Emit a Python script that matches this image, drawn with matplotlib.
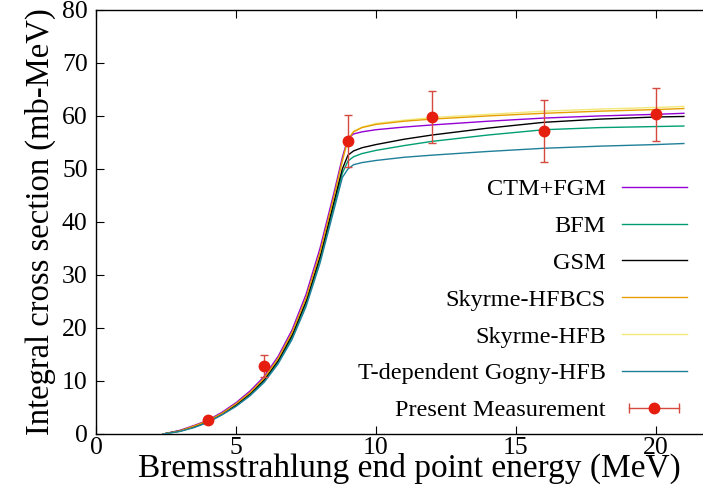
import matplotlib
matplotlib.use("Agg")
import matplotlib.pyplot as plt
from matplotlib.lines import Line2D
from matplotlib.legend_handler import HandlerLine2D, HandlerTuple

plt.rcParams['font.family'] = ['Liberation Serif', 'DejaVu Serif']

# energy grid (MeV) for the model curves
energy = [2.4, 3, 3.5, 4, 4.5, 5, 5.5, 6, 6.5, 7, 7.5, 8, 8.5, 8.8, 9.0,
          9.2, 9.5, 10, 11, 12, 14, 16, 18, 20, 21]

ctm_fgm = [0, 0.7, 1.6, 2.6, 4.1, 5.9, 8.1, 10.8, 14.6, 19.6, 26.3, 35.0, 45.5,
           52.2, 55.8, 56.6, 57.0, 57.4, 57.9, 58.3, 59.0, 59.6, 60.0, 60.3, 60.5]
bfm = [0, 0.5, 1.3, 2.3, 3.7, 5.4, 7.4, 10.0, 13.5, 18.2, 24.5, 32.8, 43.0,
       49.2, 51.5, 52.3, 52.9, 53.5, 54.4, 55.2, 56.4, 57.4, 57.8, 58.0, 58.1]
gsm = [0, 0.6, 1.4, 2.4, 3.8, 5.5, 7.6, 10.2, 13.8, 18.6, 25.0, 33.4, 43.8,
       50.0, 52.6, 53.4, 54.0, 54.6, 55.6, 56.4, 57.7, 58.8, 59.4, 59.8, 59.9]
hfbcs = [0, 0.6, 1.5, 2.5, 3.9, 5.7, 7.8, 10.5, 14.2, 19.1, 25.6, 34.2, 44.8,
         51.6, 55.6, 57.0, 57.8, 58.4, 59.0, 59.4, 60.0, 60.5, 60.9, 61.2, 61.4]
hfb = [0, 0.6, 1.5, 2.5, 3.9, 5.7, 7.8, 10.5, 14.1, 19.0, 25.5, 34.0, 44.6,
       51.4, 55.5, 57.1, 57.9, 58.6, 59.2, 59.7, 60.3, 60.9, 61.3, 61.6, 61.8]
gogny = [0, 0.5, 1.2, 2.2, 3.6, 5.2, 7.2, 9.7, 13.2, 17.8, 24.0, 32.2, 42.3,
         48.4, 50.0, 50.8, 51.2, 51.6, 52.2, 52.6, 53.3, 53.9, 54.3, 54.6, 54.8]

# measured points
meas_e = [4, 6, 9, 12, 16, 20]
meas_sig = [2.6, 12.8, 55.3, 59.8, 57.2, 60.3]
meas_err = [0.5, 2.1, 4.9, 4.9, 5.9, 5.0]

# name, values, colour, zorder (pale HFB line sits under HFBCS)
models = [
    ('CTM+FGM', ctm_fgm, '#9400d3', 3),
    ('BFM', bfm, '#009e73', 3),
    ('GSM', gsm, '#000000', 3),
    ('Skyrme-HFBCS', hfbcs, '#e69f00', 3),
    ('Skyrme-HFB', hfb, '#f3e87a', 2),
    ('T-dependent Gogny-HFB', gogny, '#1f7f99', 3),
]

fig = plt.figure(figsize=(7.03, 4.96), dpi=100)
ax = fig.add_axes([0.1366, 0.125, 0.876, 0.855])

handles = []
labels = []
for name, vals, col, z in models:
    ln, = ax.plot(energy, vals, color=col, lw=1.0, zorder=z)
    handles.append(ln)
    labels.append(name)

red = '#e51e10'
errcol = '#d44a3e'
ax.errorbar(meas_e, meas_sig, yerr=meas_err, fmt='o', color=red, ms=7.5,
            ecolor=errcol, elinewidth=1.0, capsize=3, capthick=1.0, zorder=5)

# legend entry in gnuplot style: horizontal bar with caps and a dot
bar = Line2D([], [], color=errcol, lw=1.0, marker='|', ms=7, mew=1.0)
dot = Line2D([], [], color=red, ls='none', marker='o', ms=7.5)
handles.append((bar, dot))
labels.append('Present Measurement')

leg = ax.legend(handles, labels, loc='upper right', bbox_to_anchor=(0.959, 0.603),
                frameon=False, markerfirst=False, fontsize=17.5,
                handlelength=2.67, labelspacing=0.61, handletextpad=0.66,
                borderaxespad=0, borderpad=0,
                handler_map={bar: HandlerLine2D(numpoints=2),
                             dot: HandlerLine2D(numpoints=1),
                             tuple: HandlerTuple(ndivide=1)})

ax.set_xlim(0, 22)
ax.set_ylim(0, 80)
ax.set_xticks([0, 5, 10, 15, 20])
ax.set_yticks(range(0, 81, 10))
ax.tick_params(direction='in', top=True, right=True, length=6, width=0.8,
               labelsize=18.5)
ax.tick_params(axis='x', pad=2)
ax.tick_params(axis='y', pad=6)
for s in ax.spines.values():
    s.set_linewidth(1.0)

ax.set_xlabel('Bremsstrahlung end point energy (MeV)', fontsize=24, labelpad=-4)
ax.xaxis.label.set_x(0.509)
ax.set_ylabel('Integral cross section (mb-MeV)', fontsize=23.5, labelpad=4)

fig.savefig('out.png', dpi=100)
